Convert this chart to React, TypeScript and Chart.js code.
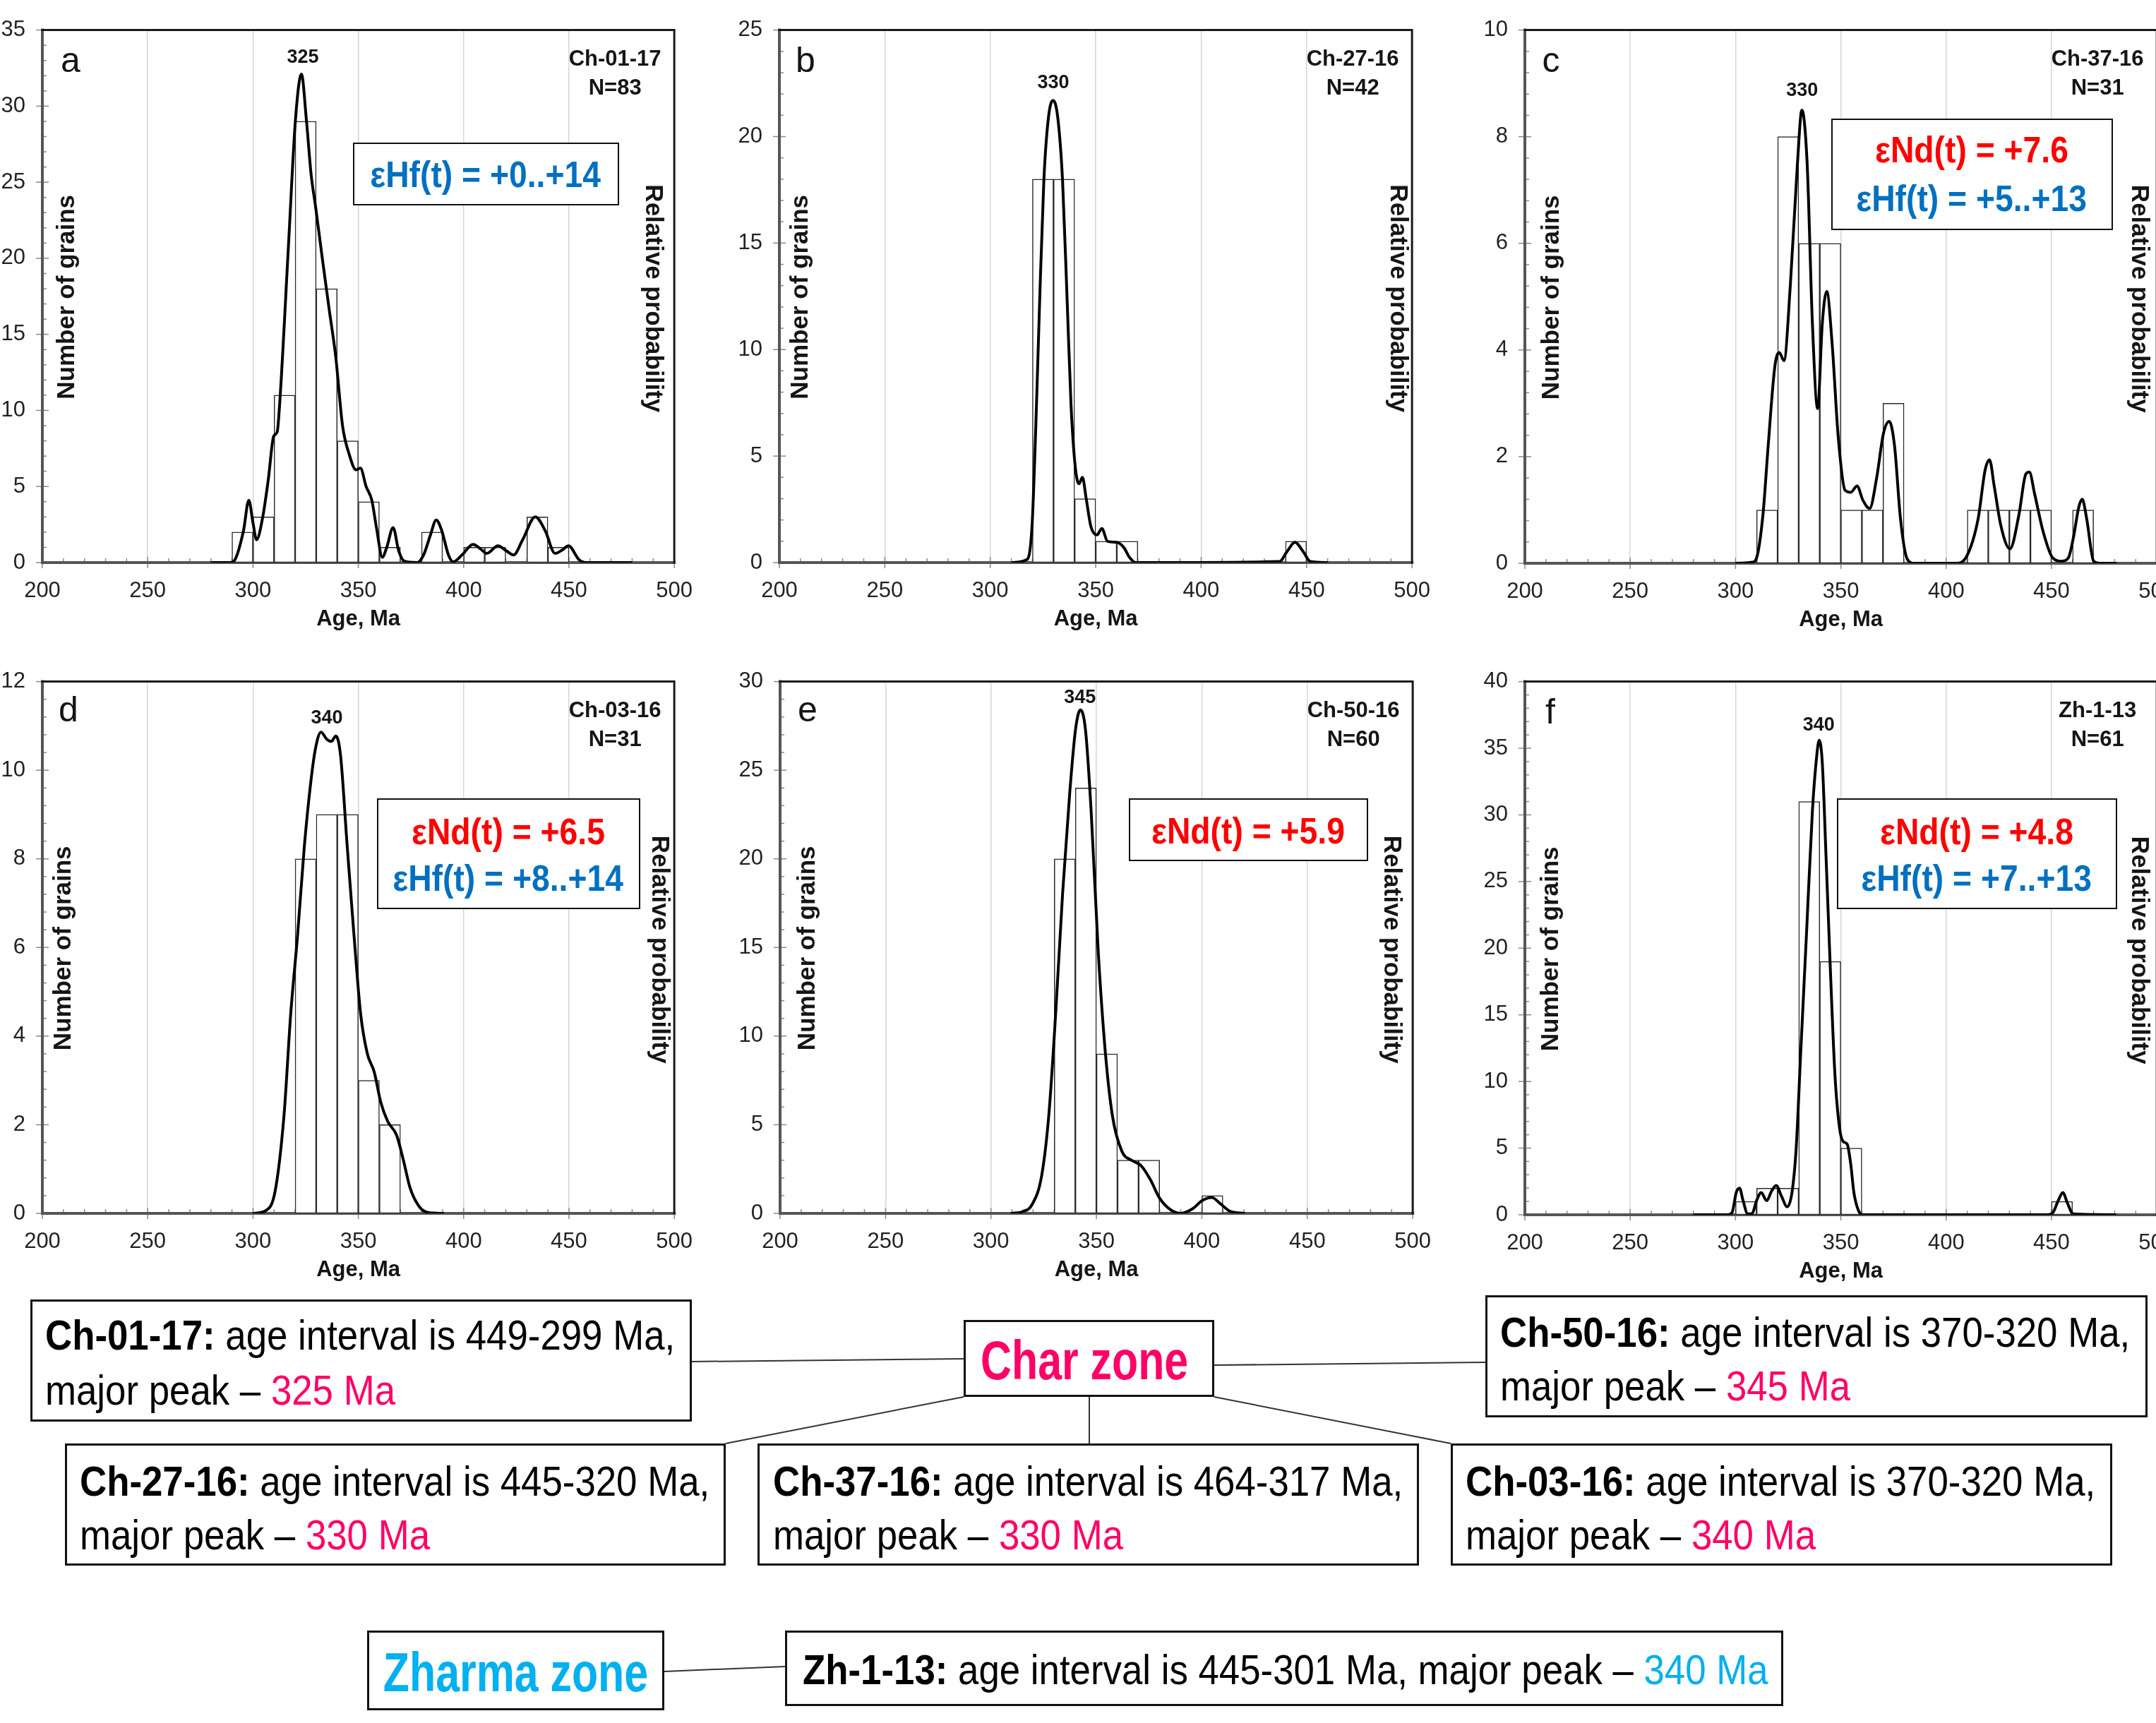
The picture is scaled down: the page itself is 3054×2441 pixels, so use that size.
import React, { useEffect, useRef } from 'react';
import { Chart, registerables } from 'chart.js';

Chart.register(...registerables);

// ---------------- data ----------------
const BIN = 10;
const xTickStep = 50;

// a: Ch-01-17
const binStartsA = [290, 300, 310, 320, 330, 340, 350, 360, 380, 400, 410, 430, 440];
const countsA = [2, 3, 11, 29, 18, 8, 4, 1, 2, 1, 1, 3, 1];
const curveAgesA = [280, 289, 291, 295.5, 298, 300, 301.7, 304.5, 307.3, 309.8, 311.5, 312.6, 316.9, 320.1, 323, 325.4, 327.6, 329.7, 332.9, 336.1, 339.3, 342.5, 345.7, 348.9, 351, 353.7, 356.4, 358.6, 361.4, 363.5, 366.5, 369.2, 372, 378, 381, 384.2, 387, 389.6, 392.8, 395, 399.2, 404.5, 408, 411, 416.3, 420, 423.7, 428, 434, 438.7, 443.4, 446.5, 449.8, 454.7, 458, 480];
const curveProbA = [0, 0, 0.1, 2.1, 4.1, 2.6, 1.5, 2.9, 5.5, 8.3, 8.6, 10.3, 21, 29, 32.1, 29, 25.5, 23.4, 20, 16.7, 13.5, 9, 7.1, 6.1, 6.2, 5.0, 4.1, 2.3, 0.35, 1.0, 2.3, 0.75, 0.08, 0, 0.5, 1.8, 2.8, 2.1, 0.5, 0.05, 0.5, 1.2, 0.9, 0.6, 1.1, 0.8, 0.5, 1.5, 3.0, 2.1, 0.6, 0.8, 1.1, 0.2, 0, 0];

// b: Ch-27-16
const binStartsB = [320, 330, 340, 350, 360, 440];
const countsB = [18, 18, 3, 1, 1, 1];
const curveAgesB = [310, 317.5, 319.8, 321.6, 323.4, 325.4, 327.6, 329.8, 332, 334.3, 336.5, 338.3, 340.3, 342.1, 343.7, 345.5, 347.7, 350.6, 352.9, 355.6, 360, 363.4, 366, 368.9, 380, 437.2, 440.6, 444.5, 448.5, 451.8, 460];
const curveProbB = [0, 0.15, 1.7, 6.4, 12.2, 17.9, 20.9, 21.7, 20.9, 17.9, 12.2, 7.4, 4.5, 3.7, 4.0, 3.0, 1.7, 1.3, 1.6, 1.0, 0.95, 0.7, 0.25, 0, 0, 0.05, 0.5, 0.95, 0.5, 0.05, 0];

// c: Ch-37-16
const binStartsC = [310, 320, 330, 340, 350, 360, 370, 410, 420, 430, 440, 460];
const countsC = [1, 8, 6, 6, 1, 1, 3, 1, 1, 1, 1, 1];
const curveAgesC = [300, 308, 310, 313, 315.5, 318.7, 320.8, 323, 326, 329.4, 331.5, 334, 336.5, 339, 341.2, 343.3, 345.9, 348.7, 352, 354.7, 357.7, 360.5, 363.7, 367, 370.2, 373, 375.5, 378.3, 381.5, 385, 405, 410, 415.2, 418.5, 420.6, 422.8, 426, 430.3, 434.5, 437.8, 439.5, 442, 446, 450.6, 454.9, 458, 460.3, 463, 464.6, 466.7, 470, 473, 481];
const curveProbC = [0, 0.02, 0.1, 0.9, 2.2, 3.7, 3.95, 3.8, 5.2, 7.5, 8.5, 7.5, 4.5, 2.9, 4.5, 5.1, 4.1, 2.4, 1.37, 1.33, 1.45, 1.18, 1.03, 1.6, 2.43, 2.66, 2.2, 0.84, 0.08, 0, 0, 0.15, 0.84, 1.75, 1.94, 1.45, 0.7, 0.27, 0.9, 1.67, 1.71, 1.3, 0.6, 0.1, 0.04, 0.1, 0.46, 1.06, 1.2, 0.84, 0.04, 0, 0];

// d: Ch-03-16
const binStartsD = [320, 330, 340, 350, 360];
const countsD = [8, 9, 9, 3, 2];
const curveAgesD = [300, 306, 310.5, 314.7, 317.9, 321.2, 324.4, 327.6, 329.7, 332.3, 335, 337.2, 339.3, 341.5, 344.7, 347.9, 351.1, 354.3, 357.5, 360.7, 363.9, 368.2, 371.4, 374.6, 378.8, 383, 390.6];
const curveProbD = [0, 0.06, 0.5, 2.2, 4.5, 6.3, 8.3, 9.8, 10.5, 10.86, 10.7, 10.65, 10.77, 10.36, 8.3, 6.3, 4.5, 3.6, 3.2, 2.5, 2.08, 1.76, 1.2, 0.57, 0.16, 0.02, 0];

// e: Ch-50-16
const binStartsE = [330, 340, 350, 360, 370, 400];
const countsE = [20, 24, 9, 3, 3, 1];
const curveAgesE = [309.4, 315, 319.5, 324, 327.4, 330.7, 334, 337.4, 340.1, 342.4, 344.8, 347.5, 350.9, 354.3, 357.6, 362.1, 366.6, 371.1, 375.6, 380, 385.7, 390.1, 395.7, 400.2, 404.7, 409.2, 413.7, 420.4];
const curveProbE = [0, 0.1, 0.5, 2.1, 5.5, 11.3, 18.1, 23.8, 27.3, 28.4, 27.3, 22.7, 14.7, 9.0, 5.5, 3.5, 3.0, 2.7, 1.9, 0.85, 0.16, 0, 0.27, 0.73, 0.9, 0.5, 0.1, 0];

// f: Zh-1-13
const binStartsF = [300, 310, 320, 330, 340, 350, 450];
const countsF = [1, 2, 2, 31, 19, 5, 1];
const curveAgesF = [280, 296, 298.3, 300.4, 301.9, 303.6, 305.8, 307.9, 310, 312.2, 314.8, 317.2, 319.3, 321.9, 324.5, 326.8, 328.8, 330.9, 333.7, 336.5, 338.6, 339.7, 341.2, 342.9, 345.1, 347.2, 349.4, 351.1, 353, 354.7, 356.2, 358.4, 360.5, 448, 450.6, 453.2, 455.4, 457.5, 460.3, 480.7];
const curveProbF = [0, 0, 0.15, 1.7, 2.0, 1.06, 0.06, 0.1, 1.06, 1.67, 1.06, 1.8, 2.2, 1.37, 0.6, 1.67, 5.0, 12, 21.1, 30.3, 34.5, 35.6, 33.9, 27.2, 18.1, 10.5, 6.5, 5.5, 5.3, 3.8, 1.67, 0.3, 0, 0, 0.15, 1.06, 1.67, 0.9, 0.06, 0];

// ---------------- styling / layout ----------------
const SANS = '"Liberation Sans", Arial, Helvetica, sans-serif';
const NARROW = '"Liberation Sans Narrow", "Arial Narrow", "Liberation Sans", sans-serif';
const PINK = '#FF0066';
const CYAN = '#00B0F0';
const RED = '#FF0000';
const BLUE = '#0070C0';

const PL = 70; // y-axis box width
const PT = 20;
const PR = 30;
const PB = 100; // x-axis box height

type PanelCfg = {
  letter: string; sample: string; n: string;
  bins: number[]; counts: number[]; ages: number[]; probs: number[];
  yMax: number; yStep: number;
  peak: string; peakX: number; peakY: number;
  left: number; top: number; width: number; height: number;
  letterPos: [number, number]; grainsDx: number; probDx: number;
};

const panels: PanelCfg[] = [
  { letter: 'a', sample: 'Ch-01-17', n: 'N=83', bins: binStartsA, counts: countsA, ages: curveAgesA, probs: curveProbA, yMax: 35, yStep: 5, peak: '325', peakX: 323.7, peakY: 33.2, left: 60, top: 43, width: 895, height: 754, letterPos: [40, 46], grainsDx: 35, probDx: 30 },
  { letter: 'b', sample: 'Ch-27-16', n: 'N=42', bins: binStartsB, counts: countsB, ages: curveAgesB, probs: curveProbB, yMax: 25, yStep: 5, peak: '330', peakX: 329.9, peakY: 22.5, left: 1104, top: 43, width: 896, height: 754, letterPos: [37, 46], grainsDx: 30, probDx: 20 },
  { letter: 'c', sample: 'Ch-37-16', n: 'N=31', bins: binStartsC, counts: countsC, ages: curveAgesC, probs: curveProbC, yMax: 10, yStep: 2, peak: '330', peakX: 331.6, peakY: 8.86, left: 2160, top: 43, width: 895, height: 755, letterPos: [37, 46], grainsDx: 38, probDx: 25 },
  { letter: 'd', sample: 'Ch-03-16', n: 'N=31', bins: binStartsD, counts: countsD, ages: curveAgesD, probs: curveProbD, yMax: 12, yStep: 2, peak: '340', peakX: 335.1, peakY: 11.18, left: 60, top: 966, width: 895, height: 753, letterPos: [37, 43], grainsDx: 30, probDx: 21 },
  { letter: 'e', sample: 'Ch-50-16', n: 'N=60', bins: binStartsE, counts: countsE, ages: curveAgesE, probs: curveProbE, yMax: 30, yStep: 5, peak: '345', peakX: 342.2, peakY: 29.1, left: 1105, top: 966, width: 896, height: 753, letterPos: [39, 43], grainsDx: 39, probDx: 30 },
  { letter: 'f', sample: 'Zh-1-13', n: 'N=61', bins: binStartsF, counts: countsF, ages: curveAgesF, probs: curveProbF, yMax: 40, yStep: 5, peak: '340', peakX: 339.5, peakY: 36.7, left: 2160, top: 966, width: 895, height: 755, letterPos: [36, 46], grainsDx: 37, probDx: 25 },
];

function makeDecor(p: PanelCfg) {
  return {
    id: 'decor_' + p.letter,
    beforeDatasetsDraw(chart: any) {
      const { ctx, chartArea: a, scales } = chart;
      const xs = scales.x;
      const ys = scales.y;
      ctx.save();
      ctx.strokeStyle = '#8a8a8a';
      ctx.lineWidth = 1.5;
      const minor = p.yStep / 5;
      const nY = Math.round(p.yMax / minor);
      for (let i = 0; i <= nY; i++) {
        const py = ys.getPixelForValue(i * minor);
        const major = i % 5 === 0;
        ctx.beginPath();
        ctx.moveTo(a.left - (major ? 9 : 0), py);
        ctx.lineTo(a.left + (major ? 9 : 6), py);
        ctx.stroke();
      }
      for (let v = xs.min; v <= xs.max; v += BIN) {
        const px = xs.getPixelForValue(v);
        const major = v % xTickStep === 0;
        ctx.beginPath();
        ctx.moveTo(px, a.bottom + (major ? 8 : 0));
        ctx.lineTo(px, a.bottom - (major ? 8 : 6));
        ctx.stroke();
      }
      ctx.lineCap = 'square';
      ctx.strokeStyle = '#555';
      ctx.lineWidth = 4;
      ctx.beginPath();
      ctx.moveTo(a.left, a.top);
      ctx.lineTo(a.left, a.bottom);
      ctx.lineTo(a.right, a.bottom);
      ctx.stroke();
      ctx.strokeStyle = '#1a1a1a';
      ctx.lineWidth = 3;
      ctx.beginPath();
      ctx.moveTo(a.left, a.top);
      ctx.lineTo(a.right, a.top);
      ctx.lineTo(a.right, a.bottom);
      ctx.stroke();
      ctx.restore();
    },
    afterDatasetsDraw(chart: any) {
      const { ctx, chartArea: a, scales } = chart;
      ctx.save();
      ctx.fillStyle = '#151515';
      ctx.textAlign = 'center';
      ctx.textBaseline = 'middle';
      ctx.font = `50px ${SANS}`;
      ctx.fillText(p.letter, a.left + p.letterPos[0], a.top + p.letterPos[1]);
      ctx.font = `bold 31px ${SANS}`;
      ctx.fillText(p.sample, a.right - 84, a.top + 42);
      ctx.fillText(p.n, a.right - 84, a.top + 83);
      ctx.font = `bold 27px ${SANS}`;
      ctx.fillText(p.peak, scales.x.getPixelForValue(p.peakX), scales.y.getPixelForValue(p.peakY));
      ctx.font = `bold 31px ${SANS}`;
      ctx.fillText('Age, Ma', (a.left + a.right) / 2, a.bottom + 80);
      ctx.font = `bold 35px ${SANS}`;
      ctx.save();
      ctx.translate(a.left + p.grainsDx, a.top + a.height / 2 + 1);
      ctx.rotate(-Math.PI / 2);
      ctx.fillText('Number of grains', 0, 0);
      ctx.restore();
      ctx.save();
      ctx.translate(a.right - p.probDx, a.top + a.height / 2 + 3);
      ctx.rotate(Math.PI / 2);
      ctx.fillText('Relative probability', 0, 0);
      ctx.restore();
      ctx.restore();
    },
  };
}

function PanelChart({ p }: { p: PanelCfg }) {
  const ref = useRef<HTMLCanvasElement>(null);
  const cw = p.width + PL + PR;
  const chh = p.height + PT + PB;
  useEffect(() => {
    const canvas = ref.current!;
    const chart = new Chart(canvas, {
      type: 'bar',
      data: {
        datasets: [
          {
            type: 'line',
            data: p.ages.map((age, i) => ({ x: age, y: p.probs[i] })),
            borderColor: '#000',
            borderWidth: 4,
            pointRadius: 0,
            cubicInterpolationMode: 'monotone',
            fill: false,
            order: 0,
          } as any,
          {
            type: 'bar',
            data: p.bins.map((b, i) => ({ x: b + BIN / 2, y: p.counts[i] })),
            backgroundColor: '#ffffff',
            borderColor: '#2a2a2a',
            borderWidth: 1.5,
            borderSkipped: false,
            barPercentage: 1,
            categoryPercentage: 1,
            order: 1,
          } as any,
        ],
      },
      options: {
        responsive: false,
        maintainAspectRatio: false,
        animation: false,
        events: [],
        layout: { padding: { top: PT, right: PR, left: 0, bottom: 0 } },
        plugins: { legend: { display: false }, tooltip: { enabled: false } },
        scales: {
          x: {
            type: 'linear',
            min: 200,
            max: 500,
            offset: false,
            ticks: { stepSize: xTickStep, color: '#222', font: { family: NARROW, size: 31 }, padding: 22, maxRotation: 0, autoSkip: false },
            grid: { display: true, drawOnChartArea: true, drawTicks: false, color: '#d6d6d6', lineWidth: 1.5, offset: false },
            border: { display: false },
            afterFit: (s: any) => { s.height = PB; },
          },
          y: {
            type: 'linear',
            min: 0,
            max: p.yMax,
            ticks: { stepSize: p.yStep, color: '#222', font: { family: NARROW, size: 31 }, padding: 24 },
            grid: { display: false, drawTicks: false },
            border: { display: false },
            afterFit: (s: any) => { s.width = PL; },
          },
        } as any,
      },
      plugins: [makeDecor(p)],
    } as any);
    // align the plot area with the reference frame position and size
    for (let k = 0; k < 2; k++) {
      const ca = chart.chartArea;
      const dw = p.width - (ca.right - ca.left);
      const dh = p.height - (ca.bottom - ca.top);
      if (Math.abs(dw) > 0.5 || Math.abs(dh) > 0.5) {
        chart.resize(Math.round(chart.width + dw), Math.round(chart.height + dh));
      }
    }
    const cb = chart.chartArea;
    canvas.style.left = `${p.left - cb.left}px`;
    canvas.style.top = `${p.top - cb.top}px`;
    return () => chart.destroy();
  }, []);
  return (
    <canvas
      ref={ref}
      width={cw}
      height={chh}
      style={{ position: 'absolute', left: p.left - PL, top: p.top - PT, width: cw, height: chh, display: 'block' }}
    />
  );
}

// ---------------- annotation overlays ----------------
type Seg = { t: string; b?: boolean; c?: string };

const isoBoxes = [
  { left: 500, top: 202, width: 377, height: 89, lines: [{ text: 'εHf(t) = +0..+14', color: BLUE, dy: 45 }] },
  { left: 2594, top: 168, width: 399, height: 158, lines: [{ text: 'εNd(t) = +7.6', color: RED, dy: 44 }, { text: 'εHf(t) = +5..+13', color: BLUE, dy: 113 }] },
  { left: 534, top: 1131, width: 373, height: 157, lines: [{ text: 'εNd(t) = +6.5', color: RED, dy: 47 }, { text: 'εHf(t) = +8..+14', color: BLUE, dy: 113 }] },
  { left: 1599, top: 1131, width: 339, height: 89, lines: [{ text: 'εNd(t) = +5.9', color: RED, dy: 46 }] },
  { left: 2602, top: 1131, width: 397, height: 157, lines: [{ text: 'εNd(t) = +4.8', color: RED, dy: 47 }, { text: 'εHf(t) = +7..+13', color: BLUE, dy: 113 }] },
];

const infoBoxes: { left: number; top: number; width: number; height: number; textX: number; lineYs: number[]; lines: Seg[][] }[] = [
  { left: 43, top: 1841, width: 937, height: 173, textX: 64, lineYs: [50, 128], lines: [[{ t: 'Ch-01-17:', b: true }, { t: ' age interval is 449-299 Ma,' }], [{ t: 'major peak – ' }, { t: '325 Ma', c: PINK }]] },
  { left: 2104, top: 1835, width: 938, height: 173, textX: 2125, lineYs: [52, 128], lines: [[{ t: 'Ch-50-16:', b: true }, { t: ' age interval is 370-320 Ma,' }], [{ t: 'major peak – ' }, { t: '345 Ma', c: PINK }]] },
  { left: 92, top: 2045, width: 936, height: 173, textX: 113, lineYs: [53, 129], lines: [[{ t: 'Ch-27-16:', b: true }, { t: ' age interval is 445-320 Ma,' }], [{ t: 'major peak – ' }, { t: '330 Ma', c: PINK }]] },
  { left: 1073, top: 2045, width: 937, height: 173, textX: 1095, lineYs: [53, 129], lines: [[{ t: 'Ch-37-16:', b: true }, { t: ' age interval is 464-317 Ma,' }], [{ t: 'major peak – ' }, { t: '330 Ma', c: PINK }]] },
  { left: 2055, top: 2045, width: 937, height: 173, textX: 2076, lineYs: [53, 129], lines: [[{ t: 'Ch-03-16:', b: true }, { t: ' age interval is 370-320 Ma,' }], [{ t: 'major peak – ' }, { t: '340 Ma', c: PINK }]] },
  { left: 1112, top: 2310, width: 1414, height: 107, textX: 1137, lineYs: [55], lines: [[{ t: 'Zh-1-13:', b: true }, { t: ' age interval is 445-301 Ma, major peak – ' }, { t: '340 Ma', c: CYAN }]] },
];

const zoneBoxes = [
  { left: 1365, top: 1870, width: 355, height: 109, text: 'Char zone', color: PINK, cx: 1536, cy: 1926 },
  { left: 520, top: 2310, width: 421, height: 113, text: 'Zharma zone', color: CYAN, cx: 730, cy: 2368 },
];

const connectors = [
  [980, 1929, 1365, 1925],
  [1720, 1934, 2104, 1930],
  [1365, 1979, 1028, 2045],
  [1543, 1979, 1543, 2045],
  [1720, 1979, 2055, 2045],
  [941, 2368, 1112, 2361],
];

const ISO_FONT = 52;
const ISO_SCALE = 0.89;
const INFO_FONT = 60;
const INFO_SCALE = 0.88;
const ZONE_FONT = 77;
const ZONE_SCALE = 0.79;

function CenteredText({ cx, cy, size, scale, color, bold, children }: any) {
  return (
    <div style={{ position: 'absolute', left: cx, top: cy - size * 0.59, width: 0, height: size * 1.2, display: 'flex', justifyContent: 'center' }}>
      <span style={{ display: 'inline-block', whiteSpace: 'nowrap', fontFamily: SANS, fontSize: size, lineHeight: `${size * 1.2}px`, fontWeight: bold ? 700 : 400, color, transform: `scaleX(${scale})`, transformOrigin: 'center center' }}>{children}</span>
    </div>
  );
}

export default function App() {
  return (
    <div style={{ position: 'absolute', left: 0, top: 0, width: 3054, height: 2441, overflow: 'hidden', background: '#fff' }}>
      {panels.map((p) => (
        <PanelChart key={p.letter} p={p} />
      ))}
      {isoBoxes.map((b, i) => (
        <div key={'iso' + i} style={{ position: 'absolute', left: b.left, top: b.top, width: b.width, height: b.height, boxSizing: 'border-box', border: '2.5px solid #111', background: '#fff' }}>
          {b.lines.map((ln, j) => (
            <CenteredText key={j} cx={b.width / 2 - 2.5} cy={ln.dy - 2.5} size={ISO_FONT} scale={ISO_SCALE} color={ln.color} bold>
              {ln.text}
            </CenteredText>
          ))}
        </div>
      ))}
      <svg width={3054} height={2441} style={{ position: 'absolute', left: 0, top: 0 }}>
        {connectors.map((c, i) => (
          <line key={i} x1={c[0]} y1={c[1]} x2={c[2]} y2={c[3]} stroke="#333" strokeWidth={2} />
        ))}
      </svg>
      {infoBoxes.map((b, i) => (
        <React.Fragment key={'info' + i}>
          <div style={{ position: 'absolute', left: b.left, top: b.top, width: b.width, height: b.height, boxSizing: 'border-box', border: '3px solid #111', background: '#fff' }} />
          {b.lines.map((segs, j) => (
            <div key={j} style={{ position: 'absolute', left: b.textX, top: b.top + b.lineYs[j] - INFO_FONT * 0.59, whiteSpace: 'nowrap', fontFamily: SANS, fontSize: INFO_FONT, lineHeight: `${INFO_FONT * 1.2}px`, color: '#000', transform: `scaleX(${INFO_SCALE})`, transformOrigin: 'left center' }}>
              {segs.map((s, k) => (
                <span key={k} style={{ fontWeight: s.b ? 700 : 400, color: s.c || '#000' }}>{s.t}</span>
              ))}
            </div>
          ))}
        </React.Fragment>
      ))}
      {zoneBoxes.map((z, i) => (
        <React.Fragment key={'zone' + i}>
          <div style={{ position: 'absolute', left: z.left, top: z.top, width: z.width, height: z.height, boxSizing: 'border-box', border: '3px solid #111', background: '#fff' }} />
          <CenteredText cx={z.cx} cy={z.cy} size={ZONE_FONT} scale={ZONE_SCALE} color={z.color} bold>{z.text}</CenteredText>
        </React.Fragment>
      ))}
    </div>
  );
}
